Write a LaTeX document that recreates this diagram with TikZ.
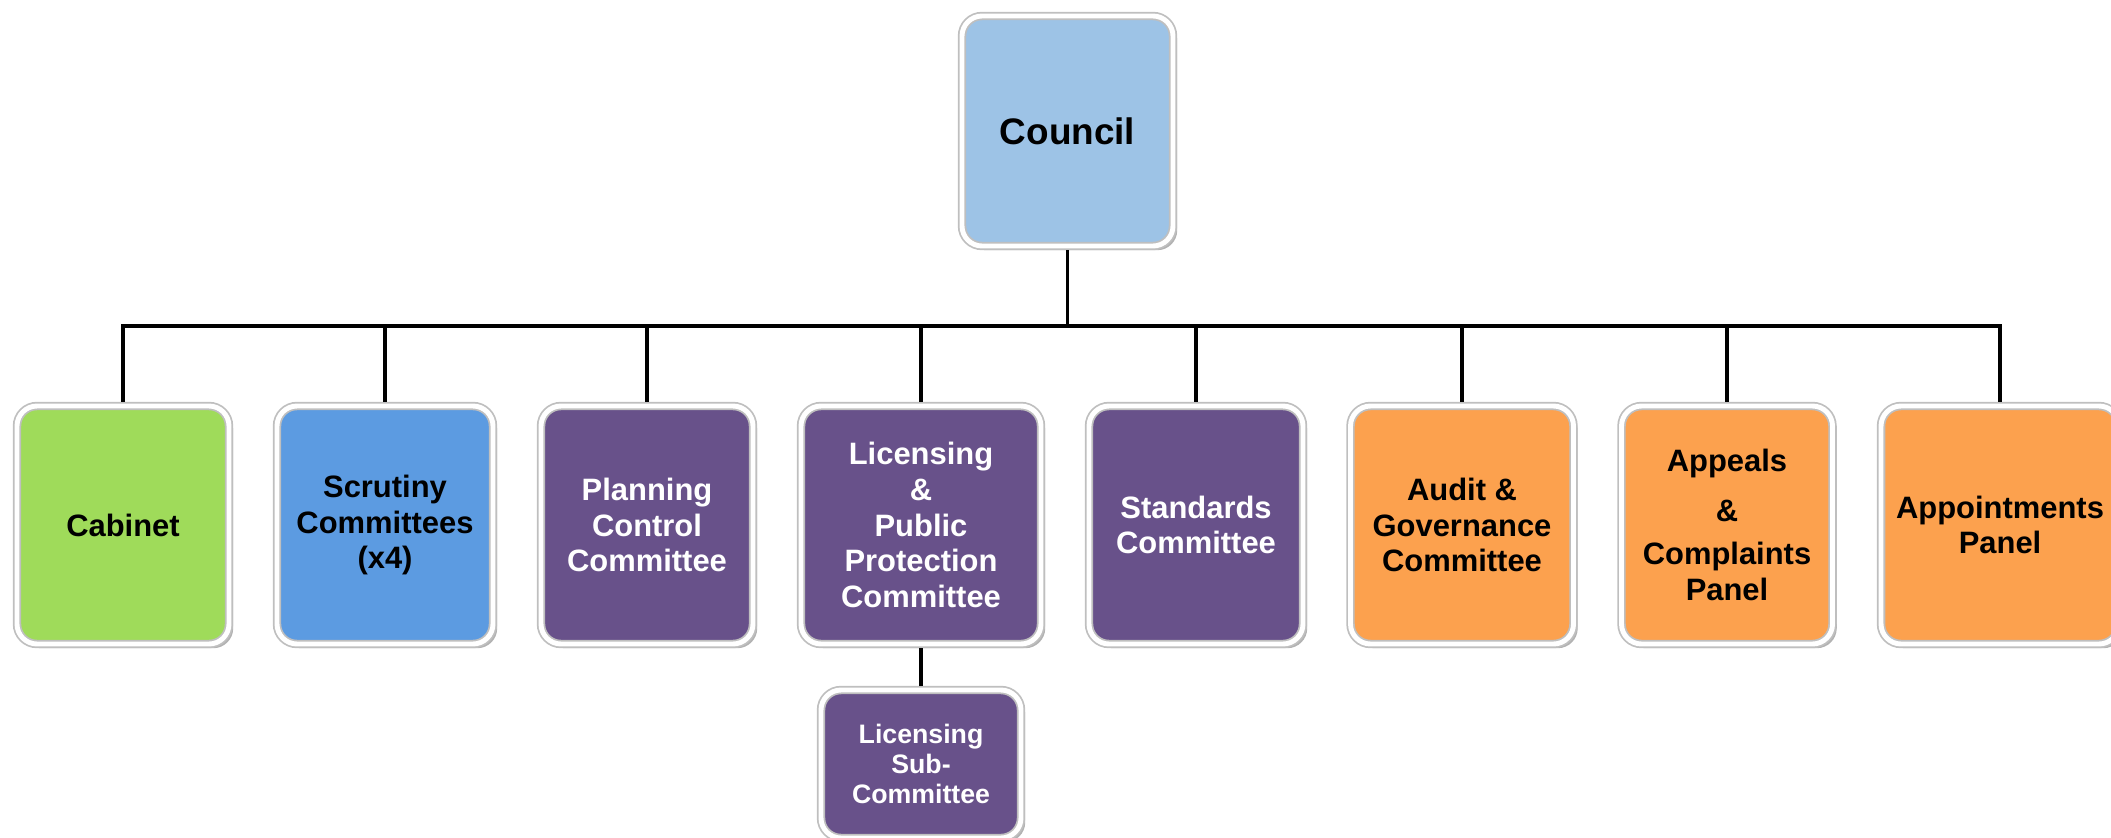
\documentclass[tikz,border=0pt]{standalone}
\usepackage{fontspec}
\setmainfont{Liberation Sans}
\usetikzlibrary{shadows}
\definecolor{councilblue}{HTML}{9DC3E6}
\definecolor{cabinetgreen}{HTML}{9FDB5A}
\definecolor{scrutinyblue}{HTML}{5C9BE1}
\definecolor{committeepurple}{HTML}{68518A}
\definecolor{panelorange}{HTML}{FCA14E}
\tikzset{
	unit/.style={rectangle, rounded corners=0.2cm, draw=black!25, double=white, double distance=1.4pt, line width=0.5pt,
		inner sep=0pt, outer sep=1.2pt, align=center, minimum height=2.38cm,
		font=\bfseries\fontsize{8.8}{10.2}\selectfont,
		drop shadow={shadow xshift=1.2pt, shadow yshift=-1.2pt, opacity=0.3, fill=black}},
	purpleunit/.style={unit, fill=committeepurple, text=white},
	orangeunit/.style={unit, fill=panelorange},
	link/.style={line width=0.9pt, black},
}

\begin{document}
\begin{tikzpicture}
		%%%%% START %%%%%
		\useasboundingbox (0, 0) rectangle (21.11, -8.37);
		\clip (0, 0) rectangle (21.11, -8.37);
		
		\node[unit, fill=councilblue, minimum width=2.11cm, minimum height=2.30cm,
			font=\bfseries\fontsize{10.5}{12}\selectfont] (council) at (10.675, -1.31) {Council};
		
		\node[unit, fill=cabinetgreen, minimum width=2.12cm] (cabinet) at (1.23, -5.25) {Cabinet};
		\node[unit, fill=scrutinyblue, minimum width=2.16cm] (scrutiny) at (3.85, -5.25) {Scrutiny\\Committees\\(x4)};
		\node[purpleunit, minimum width=2.12cm] (planning) at (6.47, -5.25) {Planning\\Control\\Committee};
		\node[purpleunit, minimum width=2.40cm] (licensing) at (9.21, -5.25) {Licensing\\\&\\Public\\Protection\\Committee};
		\node[purpleunit, minimum width=2.14cm] (standards) at (11.96, -5.25) {Standards\\Committee};
		\node[orangeunit, minimum width=2.23cm] (audit) at (14.62, -5.25) {Audit \&\\Governance\\Committee};
		\node[orangeunit, minimum width=2.11cm] (appeals) at (17.27, -5.25) {Appeals\\[4pt]\&\\[2pt]Complaints\\Panel};
		\node[orangeunit, minimum width=2.38cm] (appoint) at (20.0, -5.25) {Appointments\\Panel};
		
		\node[purpleunit, minimum width=2.00cm, minimum height=1.48cm,
			font=\bfseries\fontsize{7.6}{8.6}\selectfont] (subcommittee) at (9.21, -7.64) {Licensing\\Sub-\\Committee};
		
		% bus under the council
		\coordinate (bus) at (0, -3.26);
		\draw[link] (council.south) -- (council.south |- bus);
		\draw[link] (cabinet.north) -- (cabinet.north |- bus) -- (appoint.north |- bus) -- (appoint.north);
		\draw[link] (scrutiny.north) -- (scrutiny.north |- bus);
		\draw[link] (planning.north) -- (planning.north |- bus);
		\draw[link] (licensing.north) -- (licensing.north |- bus);
		\draw[link] (standards.north) -- (standards.north |- bus);
		\draw[link] (audit.north) -- (audit.north |- bus);
		\draw[link] (appeals.north) -- (appeals.north |- bus);
		
		\draw[link] (licensing.south) -- (subcommittee.north);
		
		%%%%% END %%%%%
	\end{tikzpicture}
\end{document}
